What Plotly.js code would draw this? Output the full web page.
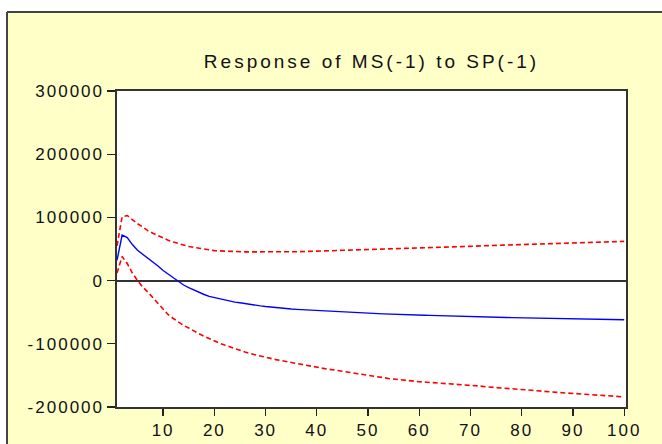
<!DOCTYPE html>
<html>
<head>
<meta charset="utf-8">
<script src="https://cdn.plot.ly/plotly-3.0.1.min.js"></script>
<style>
html, body { margin: 0; padding: 0; background: #ffffff; }
#chart .gtitle { letter-spacing: 3px; }
#chart .xtick text, #chart .ytick text { letter-spacing: 2px; }
</style>
</head>
<body>
<div id="chart" style="width:662px;height:444px;"></div>
<script>
// Periods 1..100
const periods = [1,2,3,4,5,6,7,8,9,10,11,12,13,14,15,16,17,18,19,20,
  21,22,23,24,25,26,27,28,29,30,31,32,33,34,35,36,37,38,39,40,
  41,42,43,44,45,46,47,48,49,50,51,52,53,54,55,56,57,58,59,60,
  61,62,63,64,65,66,67,68,69,70,71,72,73,74,75,76,77,78,79,80,
  81,82,83,84,85,86,87,88,89,90,91,92,93,94,95,96,97,98,99,100];

// Impulse response (blue)
const response = [32000,72000,68000,57000,48000,42000,36000,29000,23000,16000,
  10000,4000,-2000,-7000,-11000,-15000,-19000,-22000,-25000,-27000,
  -29000,-31000,-32500,-34000,-35000,-36500,-37500,-39000,-40000,-41000,
  -42000,-43000,-43500,-44000,-45000,-45500,-46000,-46500,-47000,-47500,
  -48000,-48500,-49000,-49500,-50000,-50300,-50600,-51000,-51300,-51600,
  -52000,-52300,-52600,-53000,-53200,-53500,-53800,-54000,-54300,-54500,
  -54800,-55000,-55300,-55500,-55800,-56000,-56200,-56500,-56700,-57000,
  -57200,-57400,-57600,-57800,-58000,-58200,-58400,-58600,-58800,-59000,
  -59200,-59400,-59600,-59800,-60000,-60200,-60400,-60500,-60700,-60800,
  -61000,-61100,-61200,-61300,-61400,-61500,-61600,-61700,-61800,-61900];

// Upper band (red dashed)
const upper = [55000,101000,103000,96000,90000,85000,79000,75000,71000,67000,
  64000,61000,58500,56000,54000,52500,51000,49500,48500,47500,
  47000,46500,46000,45800,45600,45500,45500,45400,45400,45400,
  45400,45400,45400,45500,45600,45700,45800,46000,46200,46500,
  46800,47000,47300,47600,48000,48200,48400,48600,48800,49000,
  49300,49600,49900,50200,50500,50700,50900,51100,51300,51500,
  51800,52100,52400,52700,53000,53200,53400,53600,53800,54000,
  54300,54600,54900,55200,55500,55800,56100,56400,56700,57000,
  57300,57600,57900,58200,58500,58800,59100,59400,59700,60000,
  60200,60400,60600,60800,61000,61200,61400,61600,61800,62000];

// Lower band (red dashed)
const lower = [12000,38000,27000,12000,0,-10000,-18000,-27000,-37000,-46000,
  -54000,-60000,-66000,-71000,-75000,-80000,-84000,-88000,-92000,-96000,
  -99000,-102000,-105000,-108000,-111000,-113000,-115500,-117500,-120000,-122000,
  -123500,-125000,-126500,-128000,-130000,-131500,-133000,-134500,-136000,-138000,
  -139000,-140000,-141000,-142000,-144000,-145000,-146000,-147500,-148500,-150000,
  -151000,-152500,-153500,-155000,-156000,-157000,-157500,-158500,-159000,-160000,
  -160500,-161000,-161500,-162500,-163000,-163500,-164000,-165000,-165500,-166000,
  -166500,-167000,-168000,-168500,-169000,-169500,-170000,-171000,-171500,-172000,
  -172800,-173600,-174400,-175200,-176000,-176500,-177000,-177500,-178000,-178500,
  -179000,-179500,-180000,-180500,-181000,-181600,-182200,-182800,-183400,-184000];

const yTickVals = [-200000,-100000,0,100000,200000,300000];
const yTickText = ['-200000','-100000','0','100000','200000','300000'];
const xTickVals = [10,20,30,40,50,60,70,80,90,100];
const xTickText = ['10','20','30','40','50','60','70','80','90','100'];
const chartTitle = 'Response of MS(-1) to SP(-1)';

const traces = [
  {x: periods, y: upper, mode: 'lines', line: {color: '#ff0000', width: 1.6, dash: '5px,3px'}, hoverinfo: 'skip'},
  {x: periods, y: lower, mode: 'lines', line: {color: '#ff0000', width: 1.6, dash: '5px,3px'}, hoverinfo: 'skip'},
  {x: periods, y: response, mode: 'lines', line: {color: '#0000ff', width: 1.4}, hoverinfo: 'skip'}
];

// plot area: x 117..626, y 91..407
const L = 117, R = 626, T = 91, B = 407, W = 662, H = 444;
const px = v => (v - L) / (R - L);
const py = v => (B - v) / (B - T);

const layout = {
  width: W, height: H,
  margin: {l: L, r: W - R, t: T, b: H - B, pad: 0},
  paper_bgcolor: '#ffffc8',
  plot_bgcolor: '#ffffff',
  showlegend: false,
  font: {family: 'Liberation Sans, Arial, sans-serif', size: 17, color: '#111111'},
  title: {text: chartTitle, x: 0.5, xref: 'paper', xanchor: 'center',
          y: 1 - 61 / H, yref: 'container', yanchor: 'middle',
          font: {family: 'Liberation Sans, Arial, sans-serif', size: 19, color: '#111111'}},
  xaxis: {range: [1, 100.35], tickvals: xTickVals, ticktext: xTickText,
          ticks: 'outside', ticklen: 7, tickwidth: 1.3, tickcolor: '#222',
          showline: true, linecolor: '#333', linewidth: 1.6, mirror: true,
          showgrid: false, zeroline: false, fixedrange: true},
  yaxis: {range: [-200000, 300000], tickvals: yTickVals, ticktext: yTickText,
          ticks: 'outside', ticklen: 8, tickwidth: 1.3, tickcolor: '#222',
          showline: true, linecolor: '#333', linewidth: 1.6, mirror: true,
          showgrid: false, zeroline: true, zerolinecolor: '#333', zerolinewidth: 2,
          fixedrange: true},
  shapes: [
    {type: 'rect', xref: 'paper', yref: 'paper', x0: px(-20), x1: px(7), y0: py(470), y1: py(-20),
     fillcolor: '#ffffff', line: {width: 0}},
    {type: 'rect', xref: 'paper', yref: 'paper', x0: px(-20), x1: px(700), y0: py(12), y1: py(-20),
     fillcolor: '#ffffff', line: {width: 0}},
    {type: 'line', xref: 'paper', yref: 'paper', x0: px(7), x1: px(7), y0: py(470), y1: py(12),
     line: {color: '#444444', width: 2}},
    {type: 'line', xref: 'paper', yref: 'paper', x0: px(7), x1: px(700), y0: py(12), y1: py(12),
     line: {color: '#444444', width: 2}}
  ]
};

Plotly.newPlot('chart', traces, layout, {staticPlot: true, displayModeBar: false});
</script>
</body>
</html>
